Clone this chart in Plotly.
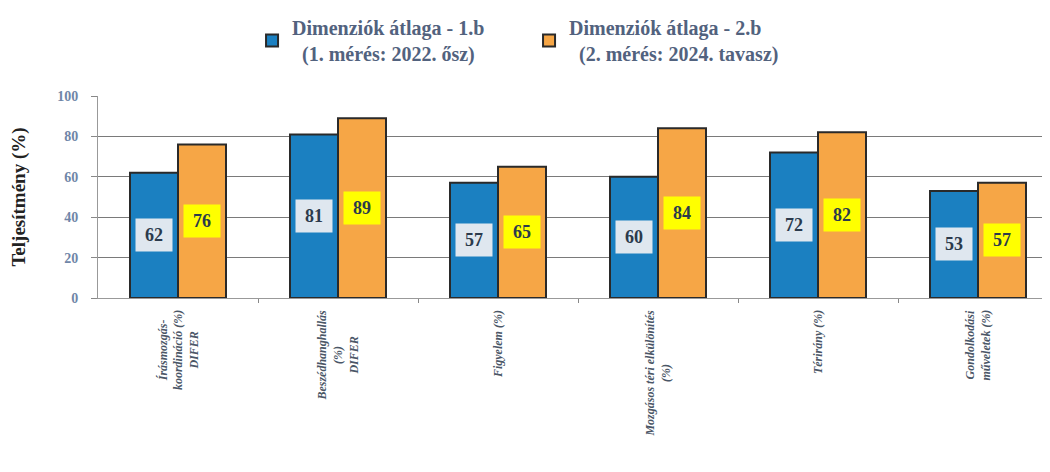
import plotly.graph_objects as go

categories = ['Írásmozgás-<br>koordináció (%)<br>DIFER',
              'Beszédhanghallás<br>(%)<br>DIFER',
              'Figyelem (%)',
              'Mozgásos téri elkülönítés<br>(%)',
              'Térirány (%)',
              'Gondolkodási<br>műveletek (%)']
meres_1 = [62, 81, 57, 60, 72, 53]
meres_2 = [76, 89, 65, 84, 82, 57]
name_1 = '<b>Dimenziók átlaga - 1.b<br>\u00a0\u00a0(1. mérés: 2022. ősz)</b>'
name_2 = '<b>Dimenziók átlaga - 2.b<br>\u00a0\u00a0(2. mérés: 2024. tavasz)</b>'

serif = 'Liberation Serif'
idx = list(range(len(categories)))

fig = go.Figure()
fig.add_trace(go.Bar(x=idx, y=meres_1, name=name_1, marker=dict(color='#1b80c1', line=dict(color='#2a2a2a', width=2))))
fig.add_trace(go.Bar(x=idx, y=meres_2, name=name_2, marker=dict(color='#f6a646', line=dict(color='#2a2a2a', width=2))))

# value boxes in the middle of the bars
for i in idx:
    fig.add_annotation(x=i, y=meres_1[i] / 2, xref='x', yref='y', xshift=-24, text='<b>%d</b>' % meres_1[i],
                       showarrow=False, bgcolor='#dfe7ef', width=34, height=30,
                       font=dict(family=serif, size=18, color='#2b3a4c'))
    fig.add_annotation(x=i, y=meres_2[i] / 2, xref='x', yref='y', xshift=24, text='<b>%d</b>' % meres_2[i],
                       showarrow=False, bgcolor='#ffff00', width=34, height=30,
                       font=dict(family=serif, size=18, color='#2b3a4c'))

# rotated, centred category labels
for i in idx:
    fig.add_annotation(x=i, y=-0.05, xref='x', yref='paper', text='<i><b>%s</b></i>' % categories[i],
                       showarrow=False, textangle=-90, align='center', xanchor='center', yanchor='top',
                       font=dict(family=serif, size=12, color='#4a5666'))

fig.update_layout(
    width=1050, height=472,
    margin=dict(l=90, r=0, t=88, b=182),
    paper_bgcolor='white', plot_bgcolor='white',
    barmode='group', bargap=0.4, bargroupgap=0,
    showlegend=True,
    legend=dict(orientation='h', x=0.449, xanchor='center', yref='container', y=1.0, yanchor='top',
                font=dict(family=serif, size=20, color='#52627e'), itemwidth=30, tracegroupgap=0,
                entrywidth=232),
    font=dict(family=serif),
    xaxis=dict(range=[-0.5, 5.5], tickvals=[i + 0.5 for i in idx[:-1]], ticktext=['' for i in idx[:-1]],
               ticks='outside', ticklen=4, tickcolor='#888', showgrid=False, automargin=False,
               showline=True, linecolor='#999', linewidth=1, zeroline=False),
    yaxis=dict(range=[0, 100], dtick=20, ticks='outside', ticklen=6, tickcolor='#888',
               showline=True, linecolor='#999', linewidth=1, automargin=False,
               gridcolor='#7a7a7a', gridwidth=1, zeroline=False, ticklabelstandoff=10,
               tickfont=dict(family=serif, size=14, color='#6f86a8', weight='bold'),
               title=dict(text='<b>Teljesítmény (%)</b>', standoff=34,
                          font=dict(family=serif, size=19, color='#222'))),
)

fig.write_html("out.html")
